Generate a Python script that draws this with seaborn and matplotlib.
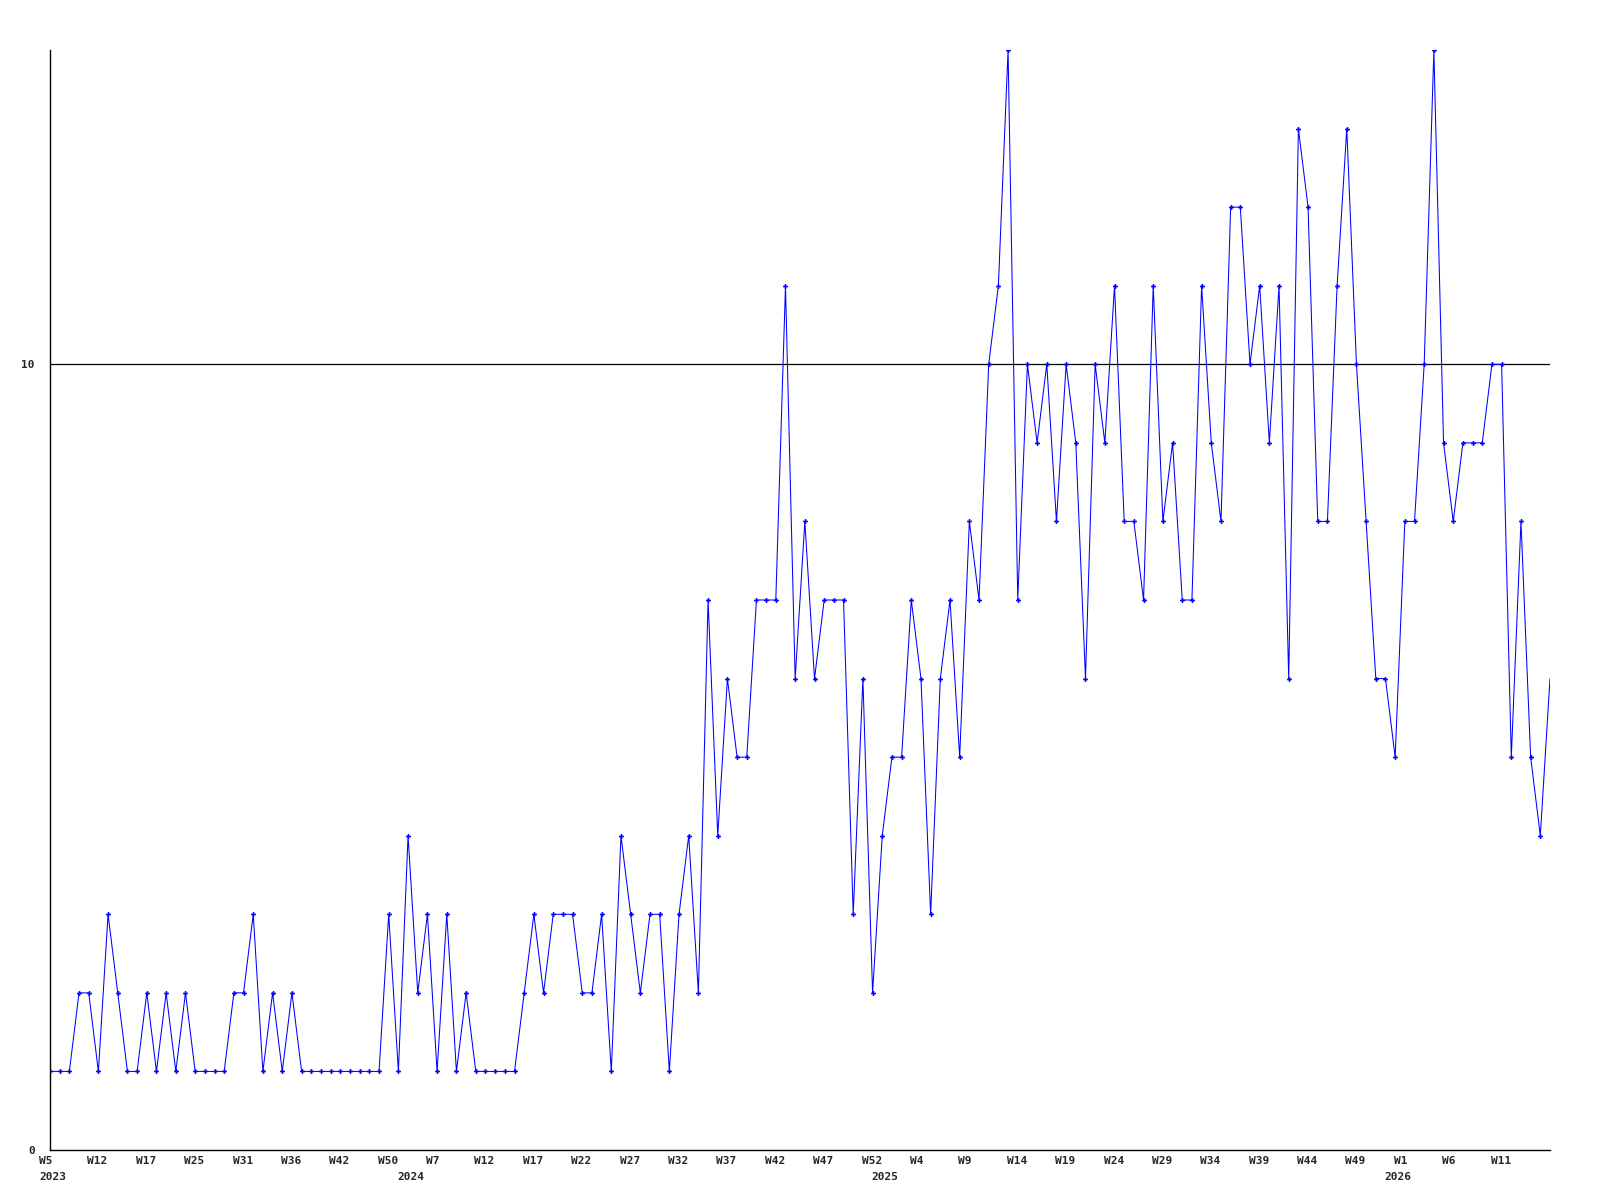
import matplotlib
matplotlib.use("Agg")
import matplotlib.pyplot as plt
import matplotlib.transforms as mtransforms
import seaborn as sns
import pandas as pd

# ---- data ----
values = [
    1, 1, 1, 2, 2, 1, 3, 2, 1, 1, 2, 1, 2, 1, 2, 1, 1, 1, 1, 2, 2, 3, 1, 2, 1, 2, 1, 1, 1, 1, 1,
    1, 1, 1, 1, 3, 1, 4, 2, 3, 1, 3, 1, 2, 1, 1, 1, 1, 1, 2, 3, 2, 3, 3, 3, 2, 2, 3, 1, 4, 3,
    2, 3, 3, 1, 3, 4, 2, 7, 4, 6, 5, 5, 7, 7, 7, 11, 6, 8, 6, 7, 7, 7, 3, 6, 2, 4, 5, 5, 7, 6,
    3, 6, 7, 5, 8, 7, 10, 11, 14, 7, 10, 9, 10, 8, 10, 9, 6, 10, 9, 11, 8, 8, 7, 11, 8, 9, 7, 7, 11, 9,
    8, 12, 12, 10, 11, 9, 11, 6, 13, 12, 8, 8, 11, 13, 10, 8, 6, 6, 5, 8, 8, 10, 14, 9, 8, 9, 9, 9, 10, 10,
    5, 8, 5, 4, 6,
]
week_labels = ["W5", "W12", "W17", "W25", "W31", "W36", "W42", "W50", "W7", "W12",
               "W17", "W22", "W27", "W32", "W37", "W42", "W47", "W52", "W4", "W9",
               "W14", "W19", "W24", "W29", "W34", "W39", "W44", "W49", "W1", "W6", "W11"]
week_label_step = 5
year_labels = ["2023", "2024", "2025", "2026"]
year_label_index = [0, 37, 86, 139]
y_ticks = [0, 10]

df = pd.DataFrame({"idx": range(len(values)), "count": values})

# ---- figure ----
sns.set_style("white")
plt.rcParams["font.family"] = ["DejaVu Sans Mono", "DejaVu Sans"]
DPI = 100
fig = plt.figure(figsize=(16, 12), dpi=DPI)
ax = fig.add_axes([50 / 1600, 50 / 1200, 1500 / 1600, 1100 / 1200])

sns.lineplot(data=df, x="idx", y="count", ax=ax, color="#0000ff", linewidth=0.75,
             marker="P", markersize=3.5, markeredgewidth=0, markerfacecolor="#0000ff",
             markevery=list(range(len(values) - 1)))

ax.set_xlim(0, len(values) - 1)
ax.set_ylim(0, 14)
for s in ["top", "right"]:
    ax.spines[s].set_visible(False)
for s in ["left", "bottom"]:
    ax.spines[s].set_color("black")
    ax.spines[s].set_linewidth(1.0)

ax.axhline(10, color="black", linewidth=0.9, zorder=0)

ax.set_yticks(y_ticks)
ax.set_yticklabels([str(t) for t in y_ticks], fontsize=8, fontweight="bold")
ax.tick_params(axis="y", length=0, pad=11)
ax.set_xticks([])
ax.set_xlabel("")
ax.set_ylabel("")

blend = mtransforms.blended_transform_factory(ax.transData, ax.transAxes)
off_w = blend + mtransforms.ScaledTranslation(-11 / DPI, -11 / DPI, fig.dpi_scale_trans)
off_y = blend + mtransforms.ScaledTranslation(-11 / DPI, -27 / DPI, fig.dpi_scale_trans)
for i, lab in enumerate(week_labels):
    ax.text(i * week_label_step, 0, lab, transform=off_w, ha="left", va="center",
            fontsize=8, fontweight="bold", clip_on=False)
for pos, lab in zip(year_label_index, year_labels):
    ax.text(pos, 0, lab, transform=off_y, ha="left", va="center",
            fontsize=8, fontweight="bold", clip_on=False)

fig.savefig("out.png", dpi=DPI, facecolor="white")
